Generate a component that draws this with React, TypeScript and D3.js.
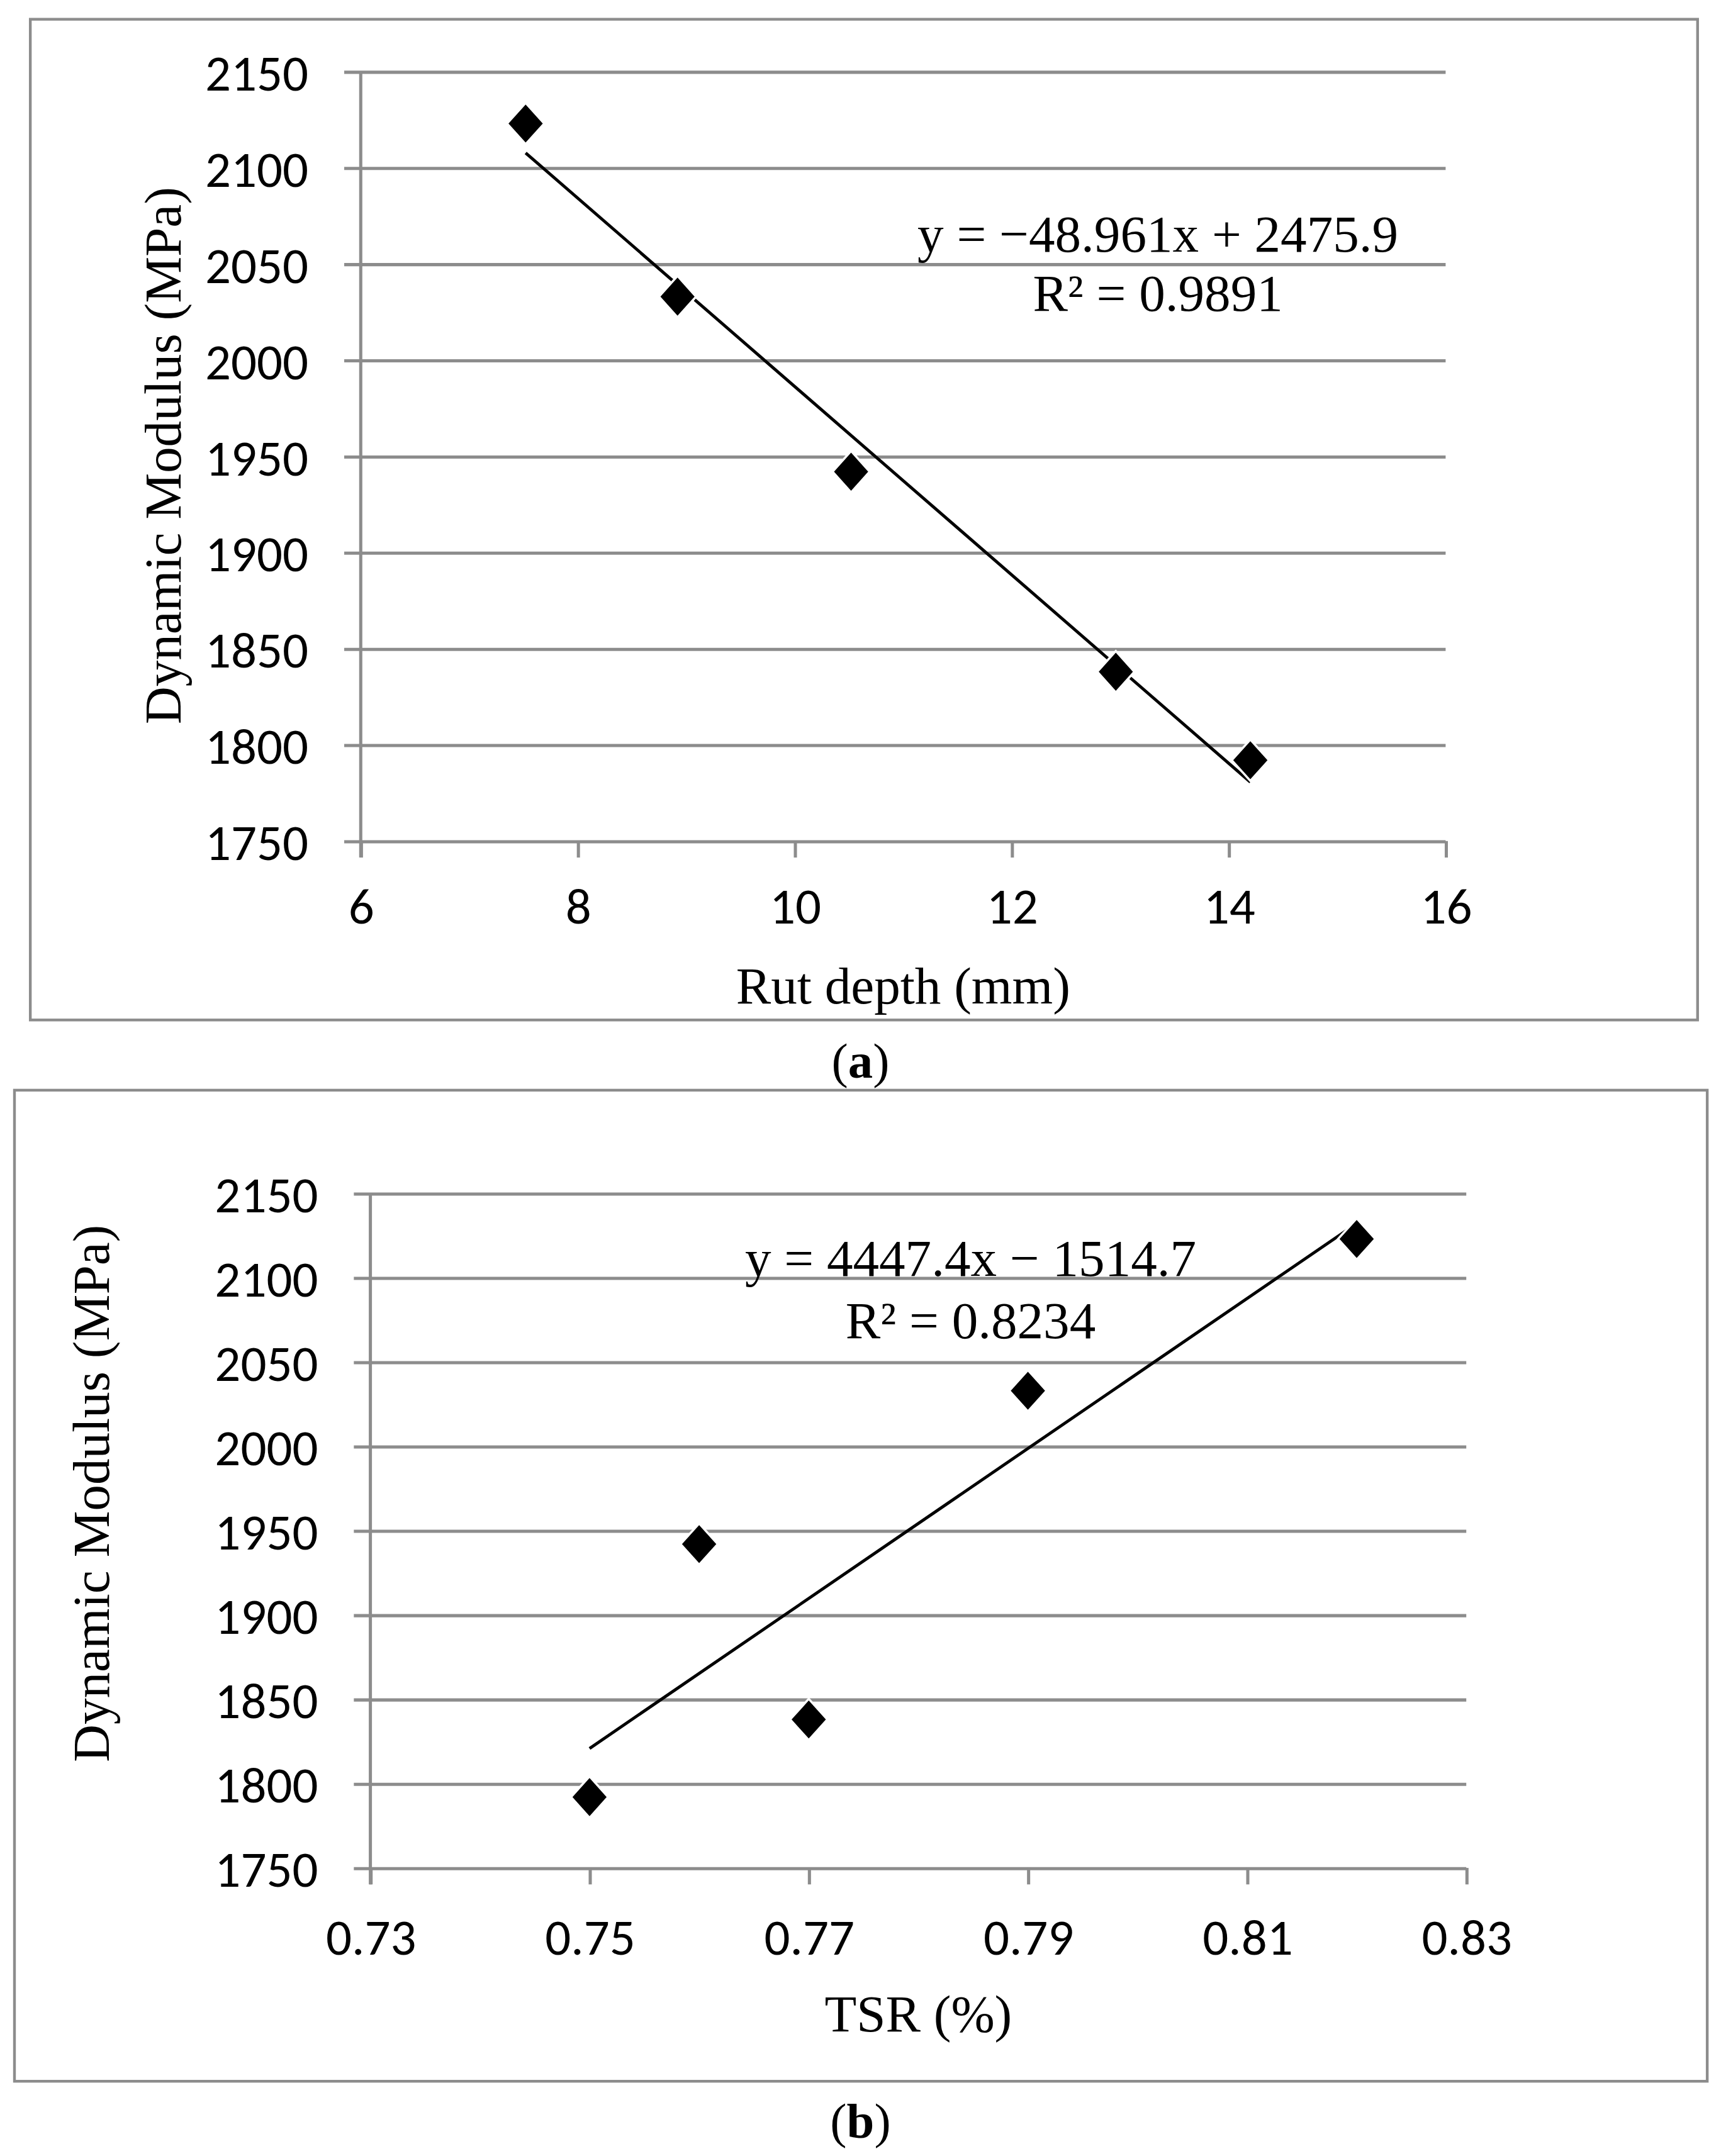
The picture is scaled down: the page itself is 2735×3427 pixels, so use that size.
import { useRef, useEffect } from 'react'
import * as d3 from 'd3'

// shared y axis (Dynamic Modulus, MPa)
const MODULUS_TICKS = [1750, 1800, 1850, 1900, 1950, 2000, 2050, 2100, 2150]

// panel (a): rut depth
const RUT_TICKS = [6, 8, 10, 12, 14, 16]
const RUT_DEPTH = [7.52, 8.92, 10.52, 12.96, 14.2]
const MODULUS_A = [2123, 2033, 1942, 1838, 1792]
const TREND_A = [-48.961, 2475.9]
const EQ_A = ['y = \u221248.961x + 2475.9', 'R\u00b2 = 0.9891']

// panel (b): TSR
const TSR_TICKS = [0.73, 0.75, 0.77, 0.79, 0.81, 0.83]
const TSR = [0.75, 0.76, 0.77, 0.79, 0.82]
const MODULUS_B = [1792, 1942, 1838, 2033, 2123]
const TREND_B = [4447.4, -1514.7]
const EQ_B = ['y = 4447.4x \u2212 1514.7', 'R\u00b2 = 0.8234']

const GRAY = '#8c8c8c'
const NUM_FONT = 'Carlito, "Liberation Sans Narrow", "Arial Narrow", Lato, sans-serif'
const SERIF = '"Liberation Serif", "Times New Roman", serif'

const VW = 1250
const VH = 1566.3

interface Panel {
  frame: [number, number, number, number]
  plot: { left: number; right: number; top: number; bottom: number }
  xDomain: [number, number]
  xTicks: number[]
  xFormat: (v: number) => string
  xs: number[]
  ys: number[]
  trend: number[]
  eq: string[]
  eqPos: [number, number, number]
  xTitle: string
  xTitlePos: [number, number]
  xLabelY: number
  yTitleX: number
  yTitleY: number
  caption: string
  captionPos: [number, number]
}

const PANELS: Panel[] = [
  {
    frame: [22, 14, 1211, 727],
    plot: { left: 262, right: 1050, top: 52, bottom: 611 },
    xDomain: [6, 16],
    xTicks: RUT_TICKS,
    xFormat: v => String(v),
    xs: RUT_DEPTH,
    ys: MODULUS_A,
    trend: TREND_A,
    eq: EQ_A,
    eqPos: [841, 183, 226],
    xTitle: 'Rut depth (mm)',
    xTitlePos: [656, 729],
    xLabelY: 671,
    yTitleX: 131,
    yTitleY: 331,
    caption: 'a',
    captionPos: [625, 783],
  },
  {
    frame: [10.5, 792, 1229.5, 720],
    plot: { left: 269, right: 1065, top: 867, bottom: 1357 },
    xDomain: [0.73, 0.83],
    xTicks: TSR_TICKS,
    xFormat: v => v.toFixed(2),
    xs: TSR,
    ys: MODULUS_B,
    trend: TREND_B,
    eq: EQ_B,
    eqPos: [705, 927, 972],
    xTitle: 'TSR (%)',
    xTitlePos: [667, 1476],
    xLabelY: 1420,
    yTitleX: 79,
    yTitleY: 1085,
    caption: 'b',
    captionPos: [625, 1553],
  },
]

// Excel-style diamond marker
const diamond = (hw: number, hh: number) => `M0,${-hh}L${hw},0L0,${hh}L${-hw},0Z`

function drawPanel(root: d3.Selection<SVGGElement, unknown, null, undefined>, p: Panel) {
  const { left, right, top, bottom } = p.plot
  const tick = 12

  root.append('rect')
    .attr('x', p.frame[0]).attr('y', p.frame[1])
    .attr('width', p.frame[2]).attr('height', p.frame[3])
    .attr('fill', 'none').attr('stroke', GRAY).attr('stroke-width', 2)

  const x = d3.scaleLinear().domain(p.xDomain).range([left, right])
  const y = d3.scaleLinear().domain([1750, 2150]).range([bottom, top])

  // gridlines + y tick labels
  const gy = root.append('g')
    .attr('transform', `translate(${left - tick},0)`)
    .call(d3.axisLeft(y).tickValues(MODULUS_TICKS).tickFormat(d3.format('d'))
      .tickSize(-(right - left + tick)).tickSizeOuter(0).tickPadding(26))
  gy.select('.domain').remove()
  gy.selectAll('line').attr('stroke', GRAY).attr('stroke-width', 2.3)
  gy.selectAll('text')
    .attr('fill', '#000').attr('dy', '0.36em')
    .style('font-family', NUM_FONT).style('font-size', '37px')

  // x ticks + labels
  const gx = root.append('g')
    .attr('transform', `translate(0,${bottom})`)
    .call(d3.axisBottom(x).tickValues(p.xTicks).tickFormat(d => p.xFormat(+d)).tickSize(tick).tickSizeOuter(0))
  gx.select('.domain').remove()
  gx.selectAll('line').attr('stroke', GRAY).attr('stroke-width', 2.3)
  gx.selectAll('text')
    .attr('fill', '#000').attr('dy', null).attr('y', p.xLabelY - bottom)
    .style('font-family', NUM_FONT).style('font-size', '37px')

  // y axis line
  root.append('line')
    .attr('x1', left).attr('x2', left).attr('y1', top).attr('y2', bottom + tick)
    .attr('stroke', GRAY).attr('stroke-width', 2.3)

  // trend line
  const [m, b] = p.trend
  const ext = d3.extent(p.xs) as [number, number]
  root.append('line')
    .attr('x1', x(ext[0])).attr('y1', y(m * ext[0] + b))
    .attr('x2', x(ext[1])).attr('y2', y(m * ext[1] + b))
    .attr('stroke', '#000').attr('stroke-width', 2.2)

  // diamond markers
  root.append('g').selectAll('path')
    .data(p.xs.map((v, i) => [v, p.ys[i]]))
    .join('path')
    .attr('d', diamond(13.5, 15))
    .attr('transform', d => `translate(${x(d[0])},${y(d[1])})`)
    .attr('fill', '#000').attr('stroke', '#fff').attr('stroke-width', 1.6)

  // equation
  p.eq.forEach((t, i) => {
    root.append('text')
      .attr('x', p.eqPos[0]).attr('y', p.eqPos[1 + i])
      .attr('text-anchor', 'middle')
      .style('font-family', SERIF).style('font-size', '38px')
      .text(t)
  })

  // axis titles
  root.append('text')
    .attr('x', p.xTitlePos[0]).attr('y', p.xTitlePos[1])
    .attr('text-anchor', 'middle')
    .style('font-family', SERIF).style('font-size', '38px')
    .text(p.xTitle)

  root.append('text')
    .attr('transform', `translate(${p.yTitleX},${p.yTitleY}) rotate(-90)`)
    .attr('text-anchor', 'middle')
    .style('font-family', SERIF).style('font-size', '38px')
    .text('Dynamic Modulus (MPa)')

  // caption
  const cap = root.append('text')
    .attr('x', p.captionPos[0]).attr('y', p.captionPos[1])
    .attr('text-anchor', 'middle')
    .style('font-family', SERIF).style('font-size', '36px')
  cap.append('tspan').text('(')
  cap.append('tspan').attr('font-weight', 'bold').text(p.caption)
  cap.append('tspan').text(')')
}

export default function App() {
  const svgRef = useRef<SVGSVGElement>(null)

  useEffect(() => {
    if (!svgRef.current) return
    const svg = d3.select(svgRef.current)
    svg.selectAll('*').remove()
    svg.append('rect').attr('width', VW).attr('height', VH).attr('fill', '#fff')
    PANELS.forEach(p => drawPanel(svg.append('g'), p))
  }, [])

  return (
    <svg
      ref={svgRef}
      width={2735}
      height={3427}
      viewBox={`0 0 ${VW} ${VH}`}
      style={{ position: 'absolute', left: 0, top: 0, display: 'block' }}
    />
  )
}
